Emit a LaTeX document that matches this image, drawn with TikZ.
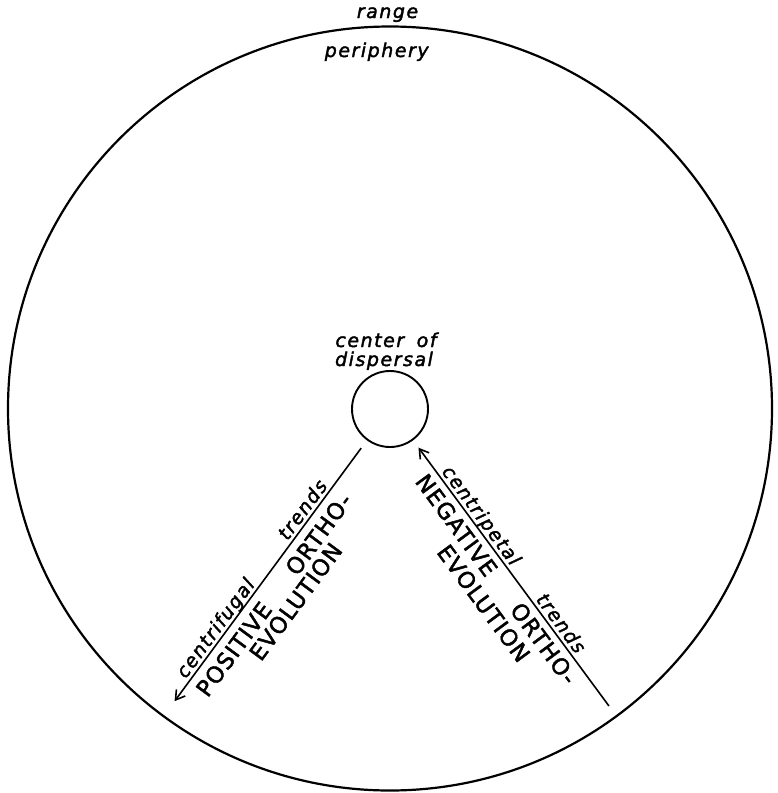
\documentclass[tikz,border=0pt]{standalone}
\usepackage{fontspec}
\setmainfont{DejaVu Sans}
\newfontfamily\lowfont[LetterSpace=8,FakeBold=2]{DejaVu Sans}
\newfontfamily\capfont[LetterSpace=5,FakeBold=2]{DejaVu Sans}
\usetikzlibrary{arrows.meta}
\tikzset{
  lc/.style={font=\lowfont\itshape\fontsize{19}{22}\selectfont, inner sep=0pt, anchor=base},
  cc/.style={font=\capfont\fontsize{22.5}{26}\selectfont, inner sep=0pt, anchor=base},
  ring/.style={draw, circle, inner sep=0pt, line width=2.2pt},
  ray/.style={line width=1.6pt, -{Straight Barb[length=9pt,width=11pt]}}
}
\begin{document}
\begin{tikzpicture}[x=1pt,y=1pt]
\useasboundingbox (0,0) rectangle (778,-793);
\node[ring, minimum size=764pt] (range) at (390,-408.5) {};
\node[ring, line width=1.9pt, minimum size=76pt] (disp) at (390,-409) {};
\node[lc] (rangelbl) at (387.5,-18) {range};
\node[lc] (periph) at (376.7,-57) {periphery};
\node[lc] (cof) at (386,-347) {center\hspace{5pt} of};
\node[lc] (dsp) at (384,-366) {dispersal};
% left ray
\begin{scope}[shift={(390,-409)}, rotate=53.6, transform shape]
  \coordinate (l1) at (-48.6,0);
  \coordinate (l2) at (-363,0);
  \node[lc] (cfg) at (-280,4) {centrifugal};
  \node[lc] (tr1) at (-133,4) {trends};
  \node[cc] (pos) at (-286,-25) {POSITIVE};
  \node[cc] (or1) at (-143,-25) {ORTHO-};
  \node[cc] (ev1) at (-211,-46.5) {EVOLUTION};
\end{scope}
% right ray
\begin{scope}[shift={(390,-409)}, rotate=-53.6, transform shape]
  \coordinate (r1) at (369,0);
  \coordinate (r2) at (48,0);
  \node[lc] (cpt) at (140,4) {centripetal};
  \node[lc] (tr2) at (274,4) {trends};
  \node[cc] (neg) at (133,-23.5) {NEGATIVE};
  \node[cc] (or2) at (280,-23.5) {ORTHO-};
  \node[cc] (ev2) at (212,-48) {EVOLUTION};
\end{scope}
\draw[ray] (l1) -- (l2);
\draw[ray] (r1) -- (r2);
\end{tikzpicture}
\end{document}
